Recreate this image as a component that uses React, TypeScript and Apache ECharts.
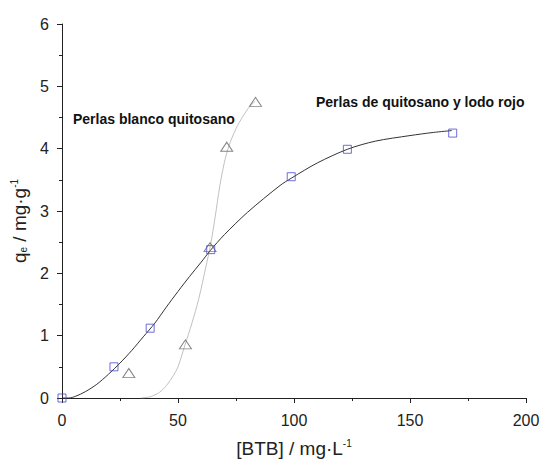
import React, { useEffect, useRef } from "react";
import * as echarts from "echarts";

// Experimental points
const quitosanoLodoX = [0, 22.4, 38.0, 64.1, 98.8, 123.0, 168.4];
const quitosanoLodoY = [0, 0.5, 1.12, 2.38, 3.55, 3.99, 4.25];
const blancoX = [28.8, 53.2, 63.8, 71.0, 83.4];
const blancoY = [0.4, 0.86, 2.42, 4.03, 4.75];

// Fitted curves
const fitLodoX = [0, 3, 6, 10, 15, 20, 25, 30, 35, 40, 45, 50, 55, 60, 64, 70, 80, 94, 99, 110, 123, 135, 150, 160, 168];
const fitLodoY = [0, 0, 0.03, 0.1, 0.22, 0.38, 0.56, 0.76, 0.98, 1.2, 1.46, 1.71, 1.95, 2.18, 2.37, 2.62, 2.98, 3.41, 3.53, 3.77, 3.99, 4.12, 4.21, 4.26, 4.29];
const fitBlancoX = [34, 38, 42, 45, 48, 50, 53, 56, 59, 62, 64, 66, 68, 70, 72, 75, 78, 81, 83.3];
const fitBlancoY = [0, 0.02, 0.09, 0.2, 0.36, 0.5, 0.85, 1.2, 1.6, 2.1, 2.45, 2.9, 3.4, 3.78, 4.05, 4.32, 4.52, 4.68, 4.76];

const labelBlanco = "Perlas blanco quitosano";
const labelLodo = "Perlas de quitosano y lodo rojo";
const xTitle = "[BTB] / mg·L{sup|-1}";
const yTitle = "q{sub|e} / mg·g{sup|-1}";

const FONT = "'Liberation Sans', Arial, sans-serif";

const zip = (xs: number[], ys: number[]) => xs.map((x, i) => [x, ys[i]]);

export default function App() {
  const ref = useRef<HTMLDivElement>(null);
  useEffect(() => {
    if (!ref.current) return;
    const chart = echarts.init(ref.current, null, { renderer: "svg" });
    const axisCommon = {
      axisLine: { show: true, lineStyle: { color: "#222", width: 1 } },
      axisTick: { show: true, length: 5, lineStyle: { color: "#222" } },
      minorTick: { show: true, splitNumber: 2, length: 3, lineStyle: { color: "#222" } },
      splitLine: { show: false },
      axisLabel: { color: "#222", fontSize: 16, fontFamily: FONT },
    };
    const sup = { fontSize: 10, fontFamily: FONT, fill: "#222", color: "#222", verticalAlign: "top", padding: [0, 0, 8, 0] };
    const sub = { fontSize: 10, fontFamily: FONT, fill: "#222", color: "#222", verticalAlign: "bottom", padding: [7, 0, 0, 0] };
    chart.setOption({
      animation: false,
      backgroundColor: "#fff",
      grid: { left: 62, right: 15, top: 24, bottom: 62, containLabel: false, outerBoundsMode: "none" },
      xAxis: {
        type: "value",
        min: 0,
        max: 200,
        interval: 50,
        ...axisCommon,
        axisLabel: { ...axisCommon.axisLabel, margin: 14 },
      },
      yAxis: {
        type: "value",
        min: 0,
        max: 6,
        interval: 1,
        ...axisCommon,
        axisLabel: { ...axisCommon.axisLabel, margin: 13 },
      },
      graphic: [
        {
          type: "text",
          x: 294,
          y: 448,
          style: {
            text: xTitle,
            font: `19px ${FONT}`,
            fill: "#222",
            align: "center",
            verticalAlign: "middle",
            rich: { sup },
          },
        },
        {
          type: "text",
          x: 19,
          y: 221,
          rotation: Math.PI / 2,
          style: {
            text: yTitle,
            font: `19px ${FONT}`,
            fill: "#222",
            align: "center",
            verticalAlign: "middle",
            rich: { sup, sub },
          },
        },
        {
          type: "text",
          left: 73,
          top: 112,
          style: { text: labelBlanco, font: `bold 14px ${FONT}`, fill: "#111" },
        },
        {
          type: "text",
          left: 316,
          top: 95,
          style: { text: labelLodo, font: `bold 14px ${FONT}`, fill: "#111" },
        },
      ],
      series: [
        {
          type: "line",
          data: zip(fitBlancoX, fitBlancoY),
          smooth: 0.3,
          showSymbol: false,
          lineStyle: { color: "#c0c0c0", width: 1 },
          z: 1,
        },
        {
          type: "line",
          data: zip(fitLodoX, fitLodoY),
          smooth: 0.3,
          showSymbol: false,
          lineStyle: { color: "#333", width: 1 },
          z: 2,
        },
        {
          type: "scatter",
          data: zip(blancoX, blancoY),
          symbol: "triangle",
          symbolSize: [12, 9],
          itemStyle: { color: "rgba(0,0,0,0)", borderColor: "#666", borderWidth: 1 },
          z: 3,
        },
        {
          type: "scatter",
          data: zip(quitosanoLodoX, quitosanoLodoY),
          symbol: "rect",
          symbolSize: 8,
          itemStyle: { color: "rgba(0,0,0,0)", borderColor: "#4a4ad0", borderWidth: 1 },
          z: 4,
        },
      ],
    });
    return () => chart.dispose();
  }, []);
  return <div ref={ref} style={{ width: 541, height: 460, position: "absolute", left: 0, top: 0 }} />;
}
